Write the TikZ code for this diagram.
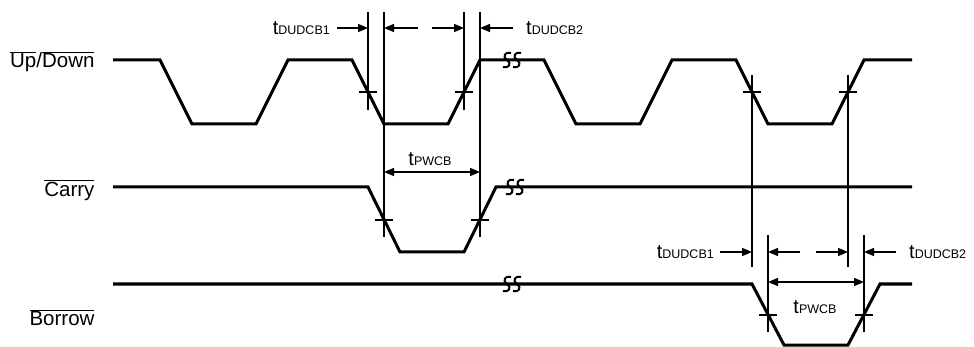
\documentclass[tikz,border=0pt]{standalone}
\usepackage{fontspec}
\setmainfont{Liberation Sans}
\usepackage{tikz}
\usetikzlibrary{arrows.meta,positioning}

\newcommand{\ovl}[1]{$\overline{\mbox{#1}}$}
\newcommand{\tsub}[1]{t{\fontsize{12.5}{14}\selectfont #1}}

\tikzset{
  wave/.style={line width=3pt, line join=miter},
  guide/.style={line width=1.3pt},
  dim/.style={line width=1.3pt, -{Triangle[length=10pt,width=8pt]}},
  dimboth/.style={line width=1.3pt, {Triangle[length=10pt,width=8pt]}-{Triangle[length=10pt,width=8pt]}},
  brk/.style={line width=2pt},
  sig/.style={anchor=east, font=\fontsize{20.5}{24}\selectfont},
  lbl/.style={font=\fontsize{20}{24}\selectfont, inner sep=0pt}
}

\begin{document}
\begin{tikzpicture}[x=1pt,y=-1pt]
                \useasboundingbox (0,0) rectangle (974,347);
                % signal names
                \node[sig] (updown) at (98,62) {\ovl{Up}/\ovl{Down}};
                \node[sig] (carry) at (98,190) {\ovl{Carry}};
                \node[sig] (borrow) at (98,318) {\ovl{Borrow}};
                % waveforms
                \draw [wave] (113,60) -- (160,60) -- (192,124) -- (256,124) -- (288,60) -- (352,60) -- (384,124)
                      -- (448,124) -- (480,60) -- (544,60) -- (576,124) -- (640,124) -- (672,60) -- (736,60)
                      -- (768,124) -- (832,124) -- (864,60) -- (912,60);
                \draw [wave] (113,187) -- (368,187) -- (400,252) -- (464,252) -- (496,187) -- (912,187);
                \draw [wave] (113,284) -- (752,284) -- (784,345) -- (848,345) -- (880,284) -- (912,284);
                % breaks
                \foreach \x/\y in {507/60, 517/60, 510/187, 520/187, 507/284, 517/284}
                  \draw [brk] (\x+4,\y-7) .. controls (\x-2,\y-9) and (\x-5,\y-3) .. (\x,\y)
                        .. controls (\x+5,\y+3) and (\x+2,\y+9) .. (\x-4,\y+7);
                % guide lines
                \draw [guide] (368,12) -- (368,110);
                \draw [guide] (384,12) -- (384,237);
                \draw [guide] (464,12) -- (464,110);
                \draw [guide] (480,12) -- (480,237);
                \draw [guide] (752,75) -- (752,267);
                \draw [guide] (848,75) -- (848,267);
                \draw [guide] (768,235) -- (768,332);
                \draw [guide] (864,235) -- (864,332);
                % crossing ticks
                \foreach \x/\y in {368/92, 464/92, 752/92, 848/92, 384/220, 480/220, 768/315, 864/315}
                  \draw [guide] (\x-9,\y) -- (\x+9,\y);
                % upper timings
                \node[lbl, anchor=east] (dud1a) at (330,28) {\tsub{DUDCB1}};
                \coordinate (a1) at (337,28);
                \coordinate (a2) at (418,28);
                \coordinate (a3) at (432,28);
                \coordinate (a4) at (513,28);
                \draw [dim] (a1) -- (368,28);
                \draw [dim] (a2) -- (384,28);
                \draw [dim] (a3) -- (464,28);
                \draw [dim] (a4) -- (480,28);
                \node[lbl, anchor=west] (dud2a) at (526,28) {\tsub{DUDCB2}};
                \draw [dimboth] (384,172) -- (480,172);
                \node[lbl] (pwa) at (430,159) {\tsub{PWCB}};
                % lower timings
                \node[lbl, anchor=east] (dud1b) at (714,252) {\tsub{DUDCB1}};
                \coordinate (b1) at (720,252);
                \coordinate (b2) at (800,252);
                \coordinate (b3) at (816,252);
                \coordinate (b4) at (896,252);
                \draw [dim] (b1) -- (752,252);
                \draw [dim] (b2) -- (768,252);
                \draw [dim] (b3) -- (848,252);
                \draw [dim] (b4) -- (864,252);
                \node[lbl, anchor=west] (dud2b) at (909,252) {\tsub{DUDCB2}};
                \draw [dimboth] (768,282) -- (864,282);
                \node[lbl] (pwb) at (815,307) {\tsub{PWCB}};
\end{tikzpicture}
\end{document}
